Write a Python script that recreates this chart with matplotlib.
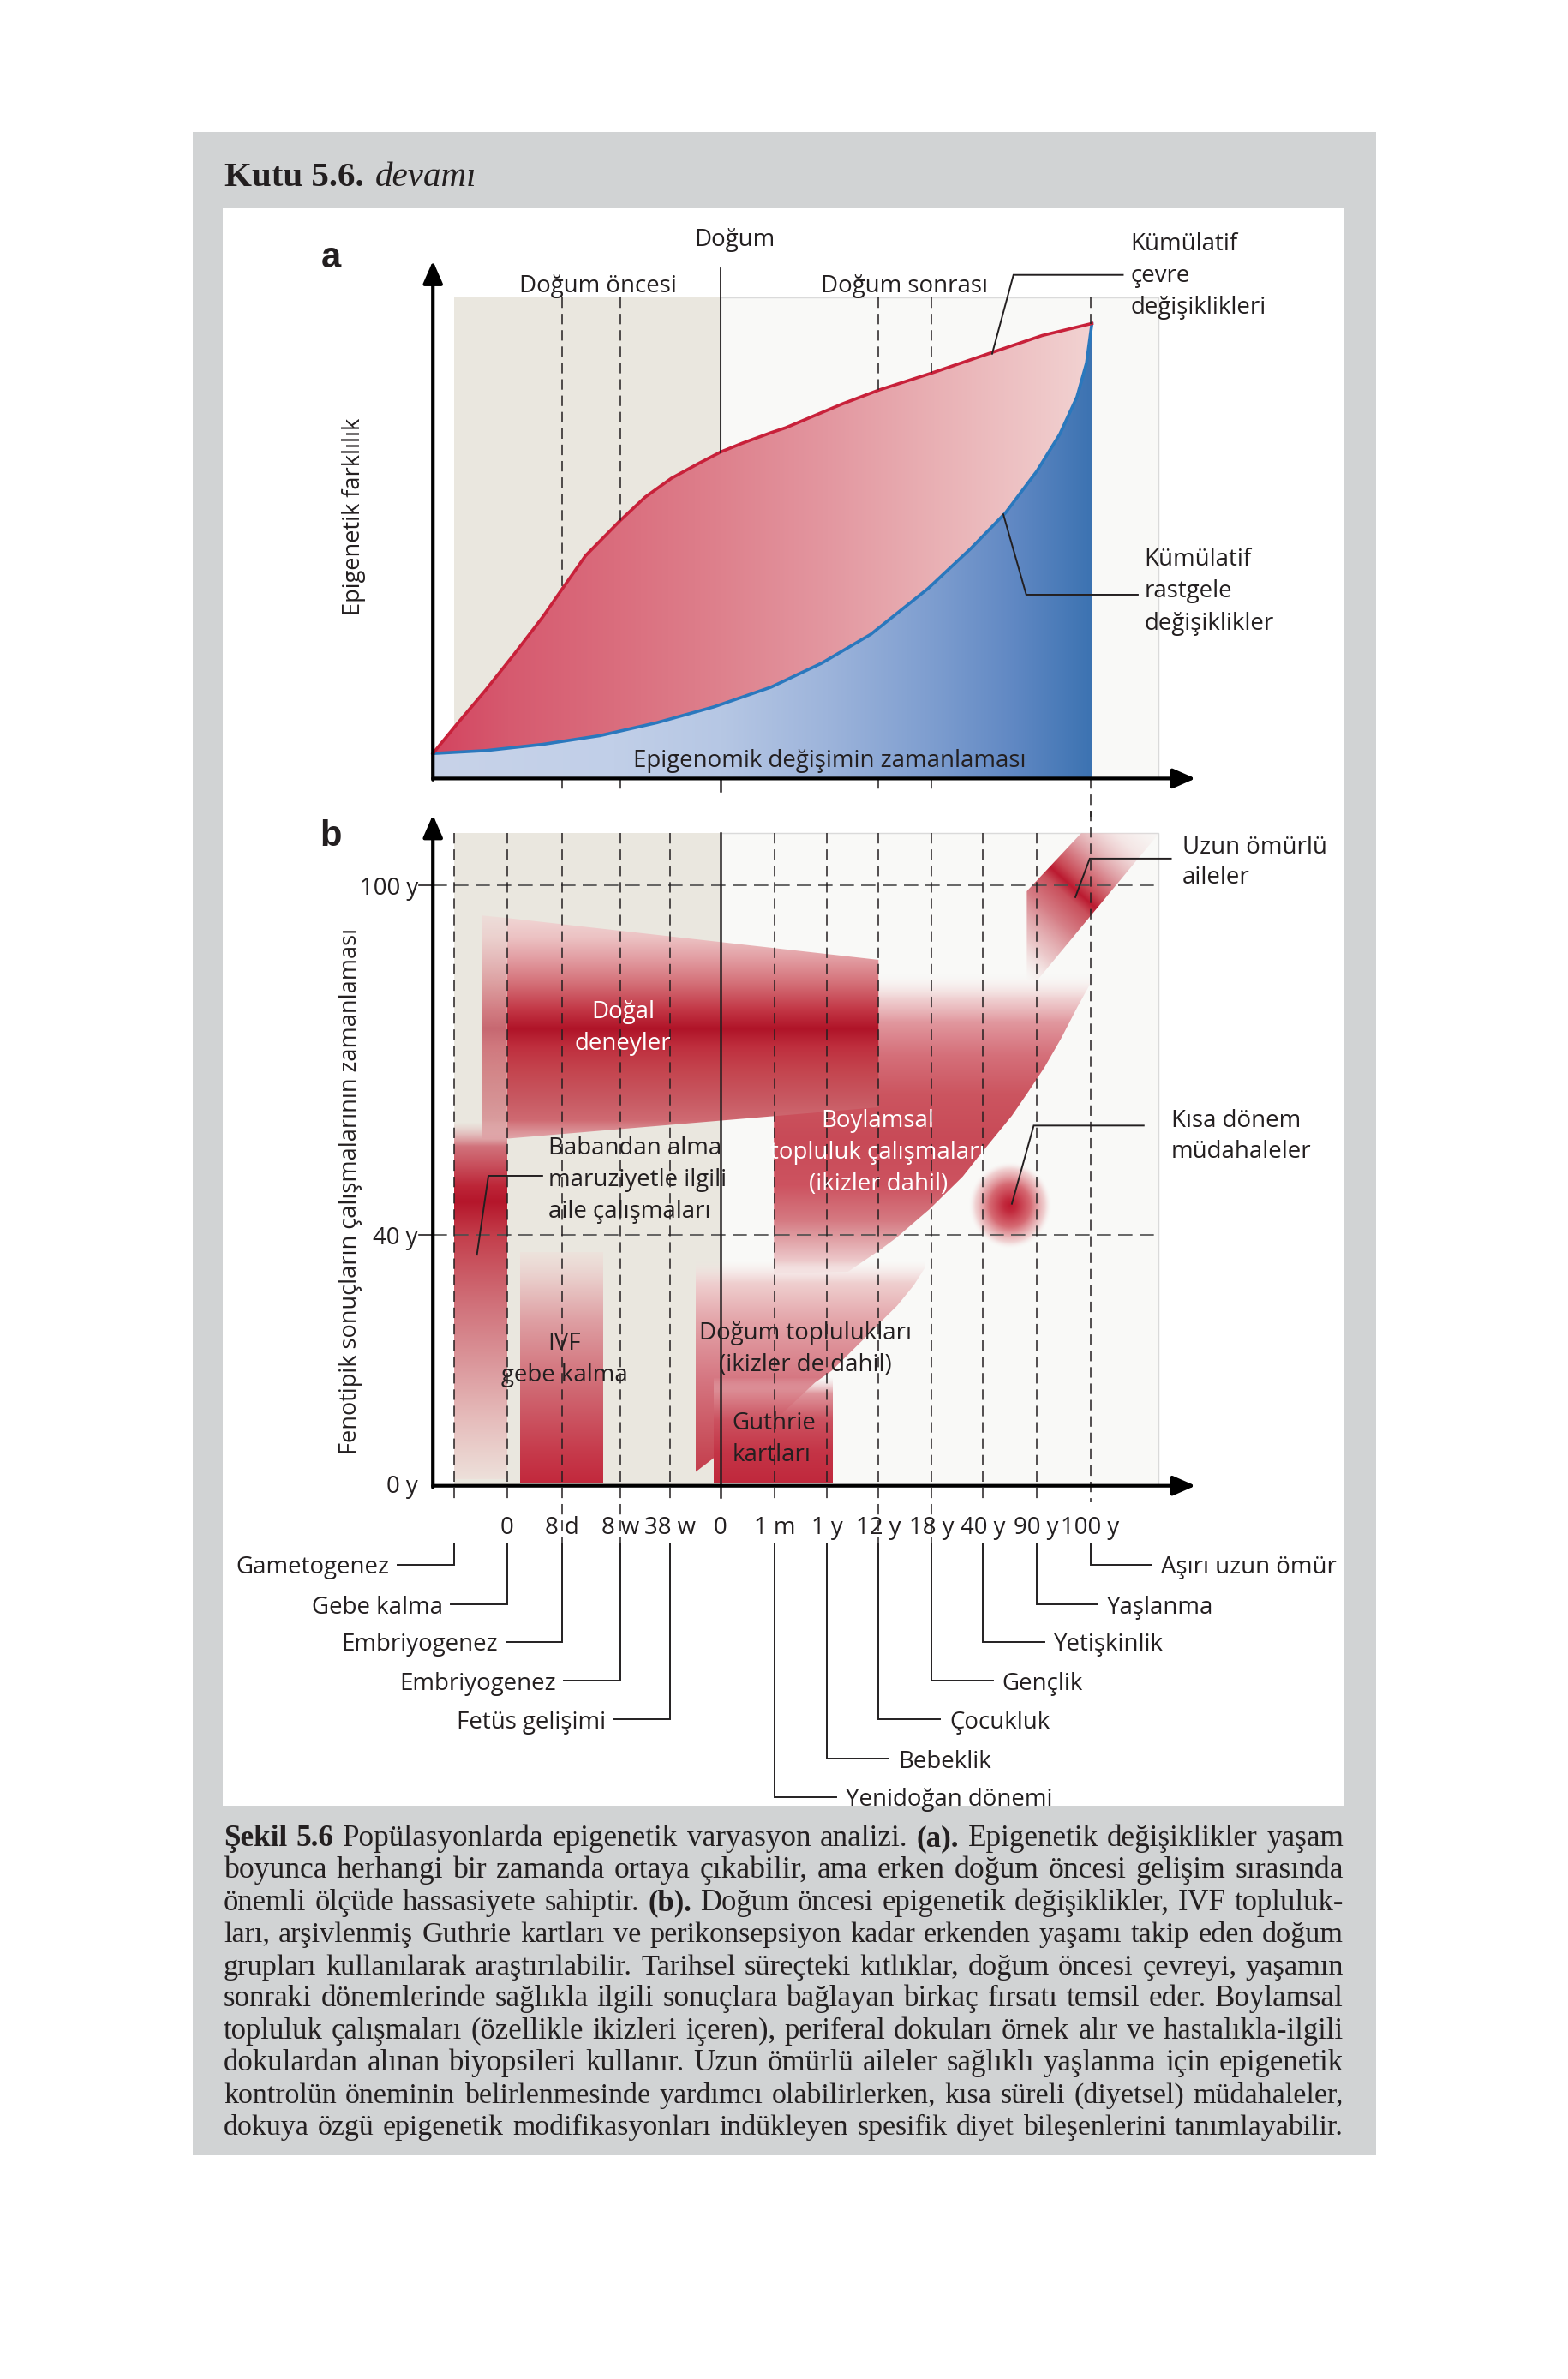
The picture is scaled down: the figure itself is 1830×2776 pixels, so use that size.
import numpy as np
import matplotlib
matplotlib.use("Agg")
import matplotlib.pyplot as plt
from matplotlib.patches import Polygon, Rectangle
from matplotlib.colors import to_rgba

W, H = 1831, 2776
SANS = "Open Sans"
SERIF = "Liberation Serif"
INK = "#231f20"
BEIGE = "#eae7df"
LIGHT = "#f9f9f7"

# ---------------- panel a: epigenetik farklilik (0-100) vs yasam evresi ----------------
A_RED_X = [-0.39, 0.06, 0.60, 1.13, 1.67, 2.02, 2.47, 3.11, 3.59, 4.08, 4.61, 5.01, 5.41, 5.95, 6.22,
           7.29, 7.98, 8.96, 10.07, 11.03, 11.96]
A_RED_Y = [5.2, 11.3, 18.4, 25.8, 33.6, 39.2, 46.3, 53.5, 58.5, 62.4, 65.6, 67.9, 69.7, 71.9, 72.9,
           77.9, 80.8, 84.3, 88.5, 92.1, 94.6]
A_BLUE_X = [-0.39, 0.60, 1.67, 2.74, 3.81, 4.88, 5.95, 6.90, 7.82, 8.89, 9.69, 10.34, 10.93, 11.36,
            11.68, 11.86, 11.96]
A_BLUE_Y = [5.2, 5.8, 7.1, 8.9, 11.6, 14.9, 19.0, 24.0, 30.0, 39.5, 47.8, 55.2, 63.9, 71.6, 79.3, 86.4, 94.6]
A_DASHED = [2.03, 3.12, 7.96, 8.95, 11.93]
BIRTH = 5.0

# ---------------- panel b ----------------
STAGE_POS = [0.0, 1.0, 2.03, 3.12, 4.05, 5.0, 6.02, 7.0, 7.96, 8.95, 9.92, 10.92, 11.93]
STAGE_LBL = ["", "0", "8 d", "8 w", "38 w", "0", "1 m", "1 y", "12 y", "18 y", "40 y", "90 y", "100 y"]
YT_POS = [0.3, 38.4, 92.0]
YT_LBL = ["0 y", "40 y", "100 y"]
LEFT_PHASES = [(0, "Gametogenez"), (1, "Gebe kalma"), (2, "Embriyogenez"), (3, "Embriyogenez"), (4, "Fetüs gelişimi")]
RIGHT_PHASES = [(12, "Aşırı uzun ömür"), (11, "Yaşlanma"), (10, "Yetişkinlik"), (9, "Gençlik"),
                (8, "Çocukluk"), (7, "Bebeklik"), (6, "Yenidoğan dönemi")]
PHASE_Y = [-12.1, -18.2, -23.9, -29.9, -35.8, -41.8, -47.7]

PAT_X, PAT_Y = [0.0, 1.0, 1.0, 0.0], [55.7, 55.7, 1.0, 1.0]
NAT_X, NAT_Y = [1.0, 7.96, 7.96, 1.0], [87.0, 80.6, 58.0, 53.2]
NATL_X, NATL_Y = [0.52, 1.0, 1.0, 0.52], [87.4, 87.0, 53.2, 53.2]
IVF_X, IVF_Y = [1.25, 2.80, 2.80, 1.25], [35.8, 35.8, 0.3, 0.3]
GUT_X, GUT_Y = [4.88, 7.11, 7.11, 4.88], [16.5, 16.5, 0.3, 0.3]
LONG_X = [6.0, 12.03, 11.69, 11.38, 11.07, 10.77, 10.46, 10.15, 9.84, 9.54, 9.23, 8.92, 8.62, 8.31, 8.00, 7.39, 6.0]
LONG_Y = [78.4, 78.4, 73.4, 68.5, 64.1, 60.4, 56.7, 53.6, 50.5, 47.4, 44.9, 42.4, 40.3, 38.1, 36.2, 32.8, 32.5]
COH_X = [4.53, 8.83, 8.83, 8.62, 8.31, 8.00, 7.70, 7.39, 7.08, 6.77, 6.16, 5.54, 4.93, 4.53]
COH_Y = [34.4, 34.4, 33.4, 30.7, 27.6, 25.1, 22.6, 20.1, 17.6, 15.8, 11.1, 8.0, 4.6, 2.1]
FAM_X, FAM_Y = [11.76, 13.22, 10.93, 10.74, 10.74], [100, 100, 77.4, 77.4, 91.1]
SHORT_C, SHORT_R = (10.42, 43.0), (0.77, 6.6)

CAPTION = [
    "**Şekil** **5.6** Popülasyonlarda epigenetik varyasyon analizi. **(a).** Epigenetik değişiklikler yaşam",
    "boyunca herhangi bir zamanda ortaya çıkabilir, ama erken doğum öncesi gelişim sırasında",
    "önemli ölçüde hassasiyete sahiptir. **(b).** Doğum öncesi epigenetik değişiklikler, IVF topluluk-",
    "ları, arşivlenmiş Guthrie kartları ve perikonsepsiyon kadar erkenden yaşamı takip eden doğum",
    "grupları kullanılarak araştırılabilir. Tarihsel süreçteki kıtlıklar, doğum öncesi çevreyi, yaşamın",
    "sonraki dönemlerinde sağlıkla ilgili sonuçlara bağlayan birkaç fırsatı temsil eder. Boylamsal",
    "topluluk çalışmaları (özellikle ikizleri içeren), periferal dokuları örnek alır ve hastalıkla-ilgili",
    "dokulardan alınan biyopsileri kullanır. Uzun ömürlü aileler sağlıklı yaşlanma için epigenetik",
    "kontrolün öneminin belirlenmesinde yardımcı olabilirlerken, kısa süreli (diyetsel) müdahaleler,",
    "dokuya özgü epigenetik modifikasyonları indükleyen spesifik diyet bileşenlerini tanımlayabilir.",
]
B_YLABEL = "Fenotipik sonuçların çalışmalarının zamanlaması"

# gradient stops (position, colour, alpha)
A_RED_STOPS = [(-0.4, "#d3445f"), (1, "#d65a6f"), (3, "#da6d7d"), (5, "#de818d"), (7, "#e397a0"),
               (9, "#e9b0b4"), (11, "#efc7c8"), (12, "#f2d3d2")]
A_BLUE_STOPS = [(-0.4, "#c8d3e9"), (3, "#c1cfe8"), (5, "#b6c7e4"), (7, "#9db4db"), (9, "#7d9dcf"),
                (10.5, "#6088c3"), (12, "#3b72b1")]
PAT_STOPS = [(1.0, "#ede0da"), (10, "#e6bdbc"), (18, "#dc9a9e"), (28, "#d07079"), (38, "#c4404d"),
             (43.5, "#b5162b"), (46, "#bd2638"), (52, "#cf6570", 0.9), (55.7, "#e3a9ad", 0.0)]
NAT_STOPS = [(53.0, "#e2a3a8", 0.9), (56, "#cf6a72"), (59, "#c85a63"), (63.5, "#c4454f"), (67.2, "#bf2f3e"),
             (70, "#b01428"), (72.8, "#c23544"), (77, "#d47078"), (81, "#e3a0a5"), (84, "#ecc2c3"),
             (87.5, "#f1d8d6")]
LONG_STOPS = [(31.5, "#f2dcdc", 0.0), (34.4, "#ecc4c6", 0.9), (40.6, "#d57a82"), (46, "#cd5360"),
              (53, "#c84a57"), (60, "#cc5560"), (66, "#d5707a"), (71, "#e1979e"), (74.5, "#edc4c6", 0.8),
              (78.4, "#f8f0f0", 0.0)]
COH_STOPS = [(2, "#c43e4e"), (6.6, "#c9505c"), (16, "#d57580"), (25, "#e3a3a8"), (31, "#efcfcf"),
             (34.4, "#f6e6e6", 0.0)]
GUT_STOPS = [(0.3, "#c0283c"), (5, "#c43446"), (10, "#cc5260"), (14, "#dc8a92", 0.9), (16.5, "#efd0d2", 0.0)]
IVF_STOPS = [(0.3, "#c2283c"), (5, "#c63a4b"), (15, "#d06a74"), (25, "#de9ea2"), (32, "#ead0cd"),
             (35.8, "#efe0da", 0.6)]
SHORT_STOPS = [(0.0, "#bd1a30"), (0.15, "#c22a3d"), (0.5, "#d66a73"), (0.85, "#efc9ca", 0.8), (1.0, "#f7eaea", 0.0)]
FAM_STOPS = [(-115, "#f0d4d4", 0.0), (-80, "#e6b3b6", 0.7), (-40, "#d67f87"), (-12, "#c9505c"), (0, "#bb1a30"),
             (12, "#c94a56"), (40, "#de9aa0"), (80, "#f0d4d4", 0.5), (120, "#f6e6e6", 0.0)]

# pixel layout of the two panels
SX, X0 = 62.28, 529.5
A_Y0, A_SY = 908.4, 5.613
B_Y0, B_SY = 1733.7, 7.615
XL = (-4.5, 17.5)
BG_RIGHT = 13.2

fig = plt.figure(figsize=(W / 100, H / 100), dpi=100)
fig.patch.set_facecolor("white")
renderer = fig.canvas.get_renderer()


def width_px(s, **kw):
    t = fig.text(0, 0, s, **kw)
    w = t.get_window_extent(renderer).width
    t.remove()
    return w


fs_sans = 20 * 456.6 / width_px("Epigenomik değişimin zamanlaması", family=SANS, size=20)
fs_ylab = 20 * 610 / width_px(B_YLABEL, family=SANS, size=20)
fs_title = 30 * 163 / width_px("Kutu 5.6.", family=SERIF, weight="bold", size=30)


def ramp(stops, t):
    pos = np.array([s[0] for s in stops], float)
    rgba = np.array([to_rgba(s[1], s[2] if len(s) > 2 else 1.0) for s in stops])
    return np.stack([np.interp(t, pos, rgba[:, k]) for k in range(4)], axis=-1)


def clip_to(ax, im, xs, ys):
    poly = Polygon(np.column_stack([xs, ys]), closed=True, fc="none", ec="none")
    ax.add_patch(poly)
    im.set_clip_path(poly)


def vgrad(ax, xs, ys, stops, z):
    t = np.linspace(stops[0][0], stops[-1][0], 400)
    img = np.repeat(ramp(stops, t)[:, None, :], 2, axis=1)
    im = ax.imshow(img, extent=[min(xs), max(xs), t[0], t[-1]], origin="lower", aspect="auto",
                   interpolation="bilinear", zorder=z)
    clip_to(ax, im, xs, ys)


def hgrad(ax, xs, ys, stops, z):
    t = np.linspace(stops[0][0], stops[-1][0], 400)
    img = np.repeat(ramp(stops, t)[None, :, :], 2, axis=0)
    im = ax.imshow(img, extent=[t[0], t[-1], min(ys), max(ys)], origin="lower", aspect="auto",
                   interpolation="bilinear", zorder=z)
    clip_to(ax, im, xs, ys)


def panel(yl, y0, sy):
    left, right = X0 + XL[0] * SX, X0 + XL[1] * SX
    top, bottom = y0 - yl[1] * sy, y0 - yl[0] * sy
    ax = fig.add_axes([left / W, 1 - bottom / H, (right - left) / W, (bottom - top) / H])
    ax.axis("off")
    ax.patch.set_alpha(0)
    return ax


def axis_arrows(ax, ytip):
    kw = dict(arrowprops=dict(arrowstyle="-|>,head_length=0.8,head_width=0.35", color="black", lw=3,
                              shrinkA=0, shrinkB=0, mutation_scale=20), annotation_clip=False)
    ax.annotate("", xy=(-0.39, ytip), xytext=(-0.39, -0.25), zorder=8, **kw)
    ax.annotate("", xy=(13.9, 0), xytext=(-0.39, 0), zorder=8, **kw)


def lines_at(ax, x, y, lines, step, **kw):
    for i, s in enumerate(lines):
        ax.text(x, y - i * step, s, va="center_baseline", family=SANS, size=fs_sans, zorder=9, **kw)


DASH = dict(color=INK, lw=1.1, ls=(0, (8, 4.5)), zorder=6, clip_on=False)
LEAD = dict(color=INK, lw=1.4, zorder=8, clip_on=False, solid_joinstyle="miter")

# ---------------- background, title, caption ----------------
bg = fig.add_axes([0, 0, 1, 1])
bg.set_xlim(0, W)
bg.set_ylim(H, 0)
bg.axis("off")
bg.add_patch(Rectangle((225, 154), 1381, 2361, fc="#d1d3d4", ec="none"))
bg.add_patch(Rectangle((260, 243), 1309, 1864, fc="white", ec="none"))
bg.text(262, 217, "Kutu 5.6.", family=SERIF, weight="bold", size=fs_title, color=INK, va="baseline")
bg.text(438, 217, "devamı", family=SERIF, style="italic", size=fs_title, color=INK, va="baseline")


def tokens(line):
    out = []
    for tok in line.split(" "):
        bold = tok.startswith("**") and tok.endswith("**")
        out.append((tok.strip("*"), "bold" if bold else "normal"))
    return out


def natural(line, fs):
    toks = tokens(line)
    ws = [width_px(t, family=SERIF, weight=wt, size=fs) for t, wt in toks]
    sp = width_px("a b", family=SERIF, size=fs) - 2 * width_px("a", family=SERIF, size=fs)
    return sum(ws) + (len(ws) - 1) * sp


cap_left, cap_right = 261, 1568
avail = cap_right - cap_left
nat = [natural(line, 21) for line in CAPTION]
base = 21 * avail / np.median(nat)
for i, line in enumerate(CAPTION):
    fs_line = float(np.clip(21 * avail / nat[i], base * 0.94, base * 1.06))
    toks = tokens(line)
    ws = [width_px(t, family=SERIF, weight=wt, size=fs_line) for t, wt in toks]
    gap = (avail - sum(ws)) / (len(ws) - 1)
    x = cap_left
    yb = 2154 + i * 37.45
    for (t, wt), w in zip(toks, ws):
        bg.text(x, yb, t, family=SERIF, weight=wt, size=fs_line, color=INK, va="baseline")
        x += w + gap

# ---------------- panel a ----------------
axa = panel((-6, 118), A_Y0, A_SY)
axa.add_patch(Rectangle((0, 0), BIRTH, 100, fc=BEIGE, ec="none", zorder=0))
axa.add_patch(Rectangle((BIRTH, 0), BG_RIGHT - BIRTH, 100, fc=LIGHT, ec="#dadada", lw=1, zorder=0))
hgrad(axa, A_RED_X + A_BLUE_X[::-1], A_RED_Y + A_BLUE_Y[::-1], A_RED_STOPS, 2)
hgrad(axa, A_BLUE_X + [A_BLUE_X[-1], A_BLUE_X[0]], A_BLUE_Y + [0, 0], A_BLUE_STOPS, 2)
axa.plot(A_BLUE_X, A_BLUE_Y, color="#2a78bd", lw=2.6, zorder=3, solid_joinstyle="round")
axa.plot(A_RED_X, A_RED_Y, color="#c8213a", lw=2.6, zorder=3, solid_joinstyle="round")
for s in A_DASHED:
    axa.plot([s, s], [100, np.interp(s, A_RED_X, A_RED_Y)], **DASH)
    axa.plot([s, s], [0, -2.6 if s < 11 else -8], **DASH)
axa.plot([BIRTH, BIRTH], [106.1, np.interp(BIRTH, A_RED_X, A_RED_Y)], color=INK, lw=1.3, zorder=6)
axa.plot([BIRTH, BIRTH], [0, -2.6], color=INK, lw=1.8, zorder=6)
axis_arrows(axa, 107.6)
axa.text(-2.30, 108.2, "a", family="Liberation Sans", weight="bold", size=30, color=INK, ha="center", va="center")
axa.text(-1.87, 54.5, "Epigenetik farklılık", family=SANS, size=fs_ylab, color=INK, rotation=90,
         ha="center", va="center")
lines_at(axa, 5.26, 112.6, ["Doğum"], 0, color=INK, ha="center")
lines_at(axa, 2.70, 103.0, ["Doğum öncesi"], 0, color=INK, ha="center")
lines_at(axa, 8.44, 103.0, ["Doğum sonrası"], 0, color=INK, ha="center")
lines_at(axa, 7.05, 4.3, ["Epigenomik değişimin zamanlaması"], 0, color=INK, ha="center")
lines_at(axa, 12.68, 111.7, ["Kümülatif", "çevre", "değişiklikleri"], 6.63, color=INK, ha="left")
lines_at(axa, 12.94, 46.1, ["Kümülatif", "rastgele", "değişiklikler"], 6.63, color=INK, ha="left")
axa.plot([12.54, 10.49, 10.09], [104.7, 104.7, 88.3], **LEAD)
axa.plot([12.82, 10.73, 10.30], [38.2, 38.2, 54.9], **LEAD)
axa.set_xlim(XL)
axa.set_ylim(-6, 118)

# ---------------- panel b ----------------
axb = panel((-52, 106), B_Y0, B_SY)
axb.add_patch(Rectangle((0, 0), BIRTH, 100, fc=BEIGE, ec="none", zorder=0))
axb.add_patch(Rectangle((BIRTH, 0), BG_RIGHT - BIRTH, 100, fc=LIGHT, ec="#dadada", lw=1, zorder=0))
vgrad(axb, LONG_X, LONG_Y, LONG_STOPS, 1)
vgrad(axb, COH_X, COH_Y, COH_STOPS, 2)
vgrad(axb, GUT_X, GUT_Y, GUT_STOPS, 2.1)
vgrad(axb, IVF_X, IVF_Y, IVF_STOPS, 2)
vgrad(axb, PAT_X, PAT_Y, PAT_STOPS, 2)
vgrad(axb, NAT_X, NAT_Y, NAT_STOPS, 2.2)
faded = [(s[0], s[1], 0.6 * (s[2] if len(s) > 2 else 1.0)) for s in NAT_STOPS]
vgrad(axb, NATL_X, NATL_Y, faded, 2.2)

# short term interventions blob
gx = np.linspace(SHORT_C[0] - SHORT_R[0], SHORT_C[0] + SHORT_R[0], 200)
gy = np.linspace(SHORT_C[1] - SHORT_R[1], SHORT_C[1] + SHORT_R[1], 200)
GX, GY = np.meshgrid(gx, gy)
dist = np.sqrt(((GX - SHORT_C[0]) / SHORT_R[0]) ** 2 + ((GY - SHORT_C[1]) / SHORT_R[1]) ** 2)
axb.imshow(ramp(SHORT_STOPS, np.clip(dist, 0, 1)), extent=[gx[0], gx[-1], gy[0], gy[-1]], origin="lower",
           aspect="auto", interpolation="bilinear", zorder=3)

# long-lived families band
gx = np.linspace(min(FAM_X), max(FAM_X), 240)
gy = np.linspace(min(FAM_Y), max(FAM_Y), 240)
GX, GY = np.meshgrid(gx, gy)
tt = (GX - 11.67) * SX * 0.668 + (GY - 91.1) * B_SY * 0.744
im = axb.imshow(ramp(FAM_STOPS, np.clip(tt, -115, 120)), extent=[gx[0], gx[-1], gy[0], gy[-1]],
                origin="lower", aspect="auto", interpolation="bilinear", zorder=3)
clip_to(axb, im, FAM_X, FAM_Y)

# grid lines
for p in YT_POS[1:]:
    axb.plot([-0.39, BG_RIGHT], [p, p], color="#4d4d4d", lw=1.2, ls=(0, (10, 5)), zorder=6)
for i, s in enumerate(STAGE_POS):
    if i == 5:
        axb.plot([s, s], [100, -1.7], color=INK, lw=1.8, zorder=6)
        continue
    bottom = -8.8 if i in (2, 3, 8, 9) else -2.5
    top = 103.5 if i == 12 else 100
    axb.plot([s, s], [top, bottom], **DASH)
axis_arrows(axb, 102.8)

for p, l in zip(YT_POS, YT_LBL):
    axb.text(-0.67, p, l, family=SANS, size=fs_sans, color=INK, ha="right", va="center_baseline")
    if p > 1:
        axb.plot([-0.65, -0.39], [p, p], color=INK, lw=1.2, zorder=6)
for s, l in zip(STAGE_POS, STAGE_LBL):
    axb.text(s, -6.0, l, family=SANS, size=fs_sans, color=INK, ha="center", va="center_baseline")

for (i, name), y in zip(LEFT_PHASES, PHASE_Y):
    s = STAGE_POS[i]
    axb.plot([s, s, s - 1.05], [-8.8, y, y], **LEAD)
    axb.text(s - 1.2, y, name, family=SANS, size=fs_sans, color=INK, ha="right", va="center_baseline")
for (i, name), y in zip(RIGHT_PHASES, PHASE_Y):
    s = STAGE_POS[i]
    axb.plot([s, s, s + 1.15], [-8.8, y, y], **LEAD)
    axb.text(s + 1.33, y, name, family=SANS, size=fs_sans, color=INK, ha="left", va="center_baseline")

axb.text(-2.30, 99.5, "b", family="Liberation Sans", weight="bold", size=30, color=INK, ha="center", va="center")
axb.text(-1.94, 45.2, B_YLABEL, family=SANS, size=fs_ylab, color=INK, rotation=90, ha="center", va="center")

lines_at(axb, 3.17, 73.0, ["Doğal", "deneyler"], 4.88, color="white", ha="center")
lines_at(axb, 7.95, 56.4, ["Boylamsal", "topluluk çalışmaları", "(ikizler dahil)"], 4.88, color="white", ha="center")
lines_at(axb, 1.77, 52.2, ["Babandan alma", "maruziyetle ilgili", "aile çalışmaları"], 4.88, color=INK, ha="left")
lines_at(axb, 2.08, 22.2, ["IVF", "gebe kalma"], 4.88, color=INK, ha="center")
lines_at(axb, 6.59, 23.8, ["Doğum toplulukları", "(ikizler de dahil)"], 4.88, color=INK, ha="center")
lines_at(axb, 5.22, 10.0, ["Guthrie", "kartları"], 4.88, color=INK, ha="left")
lines_at(axb, 13.66, 98.3, ["Uzun ömürlü", "aileler"], 4.6, color=INK, ha="left")
lines_at(axb, 13.44, 56.3, ["Kısa dönem", "müdahaleler"], 4.6, color=INK, ha="left")
axb.plot([13.44, 11.92, 11.65], [96.1, 96.1, 90.2], **LEAD)
axb.plot([12.93, 10.87, 10.46], [55.2, 55.2, 43.2], **LEAD)
axb.plot([1.66, 0.65, 0.435], [47.5, 47.5, 35.4], **LEAD)
axb.set_xlim(XL)
axb.set_ylim(-52, 106)

fig.savefig("out.png", dpi=100)
